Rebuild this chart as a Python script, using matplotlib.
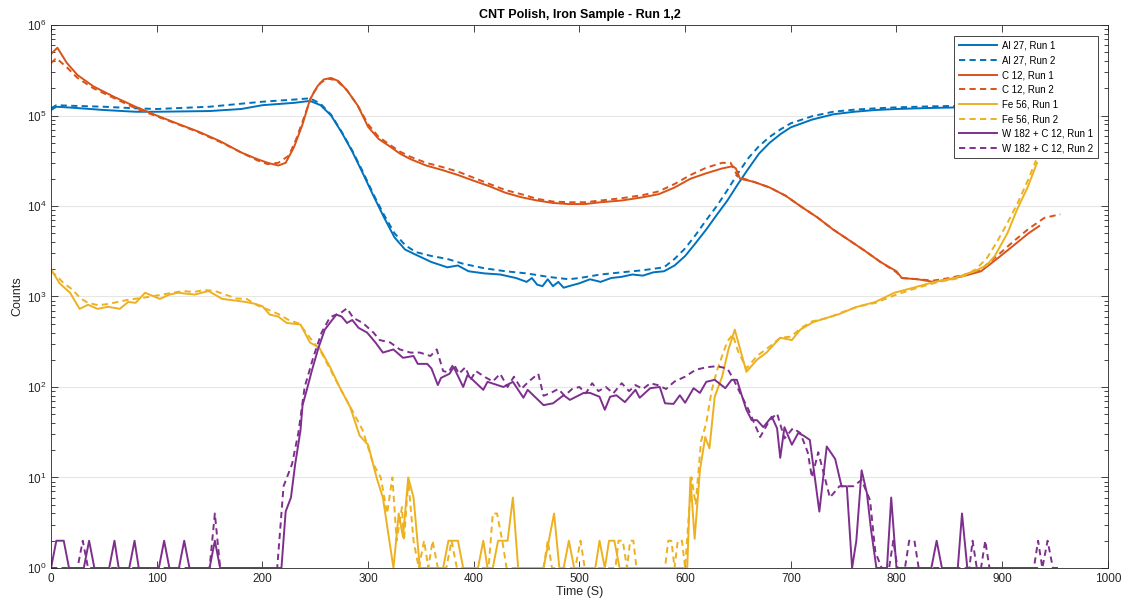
import numpy as np
import matplotlib
matplotlib.use("Agg")
from matplotlib import pyplot as plt
from matplotlib.ticker import LogLocator, MultipleLocator

plt.rcParams['font.family'] = ['Liberation Sans', 'DejaVu Sans']
plt.rcParams['mathtext.fontset'] = 'custom'
plt.rcParams['mathtext.rm'] = 'Liberation Sans'

# ---- data (time in s, counts) ----
t_al1 = [0, 5, 20, 50, 80, 100, 150, 180, 200, 230, 245, 255, 265, 275, 285, 295, 305, 315, 325, 335, 345,
         360, 375, 385, 395, 410, 425, 440, 450, 455, 460, 465, 470, 475, 480, 485, 490, 500, 510, 520, 530,
         540, 550, 560, 570, 580, 590, 600, 610, 620, 630, 640, 650, 660, 670, 680, 690, 700, 720, 740, 760,
         780, 800, 830, 860, 900, 935]
al1 = [1.15e5, 1.25e5, 1.22e5, 1.15e5, 1.1e5, 1.1e5, 1.12e5, 1.18e5, 1.3e5, 1.38e5, 1.45e5, 1.3e5, 1.0e5,
       6.5e4, 4.0e4, 2.3e4, 1.3e4, 7.5e3, 4.5e3, 3.3e3, 2.9e3, 2.4e3, 2.1e3, 2.2e3, 1.9e3, 1.8e3, 1.75e3,
       1.6e3, 1.45e3, 1.6e3, 1.35e3, 1.3e3, 1.55e3, 1.3e3, 1.45e3, 1.25e3, 1.3e3, 1.4e3, 1.55e3, 1.45e3,
       1.6e3, 1.65e3, 1.75e3, 1.7e3, 1.85e3, 1.9e3, 2.2e3, 2.8e3, 3.9e3, 5.5e3, 8.0e3, 1.15e4, 1.75e4,
       2.6e4, 3.8e4, 5.0e4, 6.2e4, 7.4e4, 9.0e4, 1.03e5, 1.1e5, 1.15e5, 1.18e5, 1.21e5, 1.23e5, 1.25e5, 1.26e5]

t_al2 = [0, 5, 20, 50, 80, 100, 150, 180, 200, 230, 245, 255, 265, 275, 285, 295, 305, 315, 325, 335, 345,
         360, 375, 390, 410, 430, 450, 470, 490, 500, 520, 540, 560, 580, 590, 600, 610, 620, 630, 640, 650,
         660, 670, 680, 690, 700, 720, 740, 760, 780, 800, 830, 860, 900, 955]
al2 = [1.2e5, 1.3e5, 1.28e5, 1.25e5, 1.2e5, 1.18e5, 1.25e5, 1.35e5, 1.42e5, 1.5e5, 1.55e5, 1.35e5, 1.02e5,
       6.6e4, 4.1e4, 2.4e4, 1.35e4, 8.0e3, 5.0e3, 3.7e3, 3.1e3, 2.8e3, 2.6e3, 2.3e3, 2.05e3, 1.9e3, 1.8e3,
       1.65e3, 1.55e3, 1.6e3, 1.75e3, 1.85e3, 1.95e3, 2.1e3, 2.6e3, 3.4e3, 4.8e3, 7.0e3, 1.0e4, 1.5e4,
       2.3e4, 3.4e4, 4.6e4, 5.8e4, 7.0e4, 8.2e4, 9.8e4, 1.1e5, 1.16e5, 1.2e5, 1.23e5, 1.26e5, 1.28e5,
       1.29e5, 1.3e5]

t_c1 = [0, 6, 15, 25, 40, 60, 80, 100, 120, 140, 160, 180, 195, 205, 215, 222, 230, 238, 245, 252, 258, 265,
        272, 280, 290, 300, 310, 320, 330, 340, 355, 370, 385, 400, 415, 430, 445, 460, 475, 490, 505, 520,
        540, 560, 575, 590, 605, 620, 635, 645, 648, 652, 665, 680, 695, 710, 725, 740, 755, 770, 785, 800,
        805, 820, 835, 850, 865, 880, 895, 910, 925, 935]
c1 = [4.8e5, 5.6e5, 3.8e5, 2.8e5, 2.1e5, 1.6e5, 1.25e5, 1.0e5, 8.1e4, 6.6e4, 5.2e4, 3.9e4, 3.3e4, 3.0e4,
      2.8e4, 3.0e4, 4.5e4, 8.0e4, 1.5e5, 2.1e5, 2.5e5, 2.6e5, 2.4e5, 1.9e5, 1.3e5, 7.5e4, 5.5e4, 4.6e4,
      3.8e4, 3.3e4, 2.8e4, 2.5e4, 2.2e4, 1.9e4, 1.65e4, 1.4e4, 1.25e4, 1.15e4, 1.08e4, 1.05e4, 1.05e4,
      1.1e4, 1.15e4, 1.25e4, 1.35e4, 1.6e4, 2.0e4, 2.3e4, 2.6e4, 2.75e4, 2.6e4, 2.0e4, 1.85e4, 1.6e4,
      1.3e4, 9.8e3, 7.5e3, 5.5e3, 4.2e3, 3.2e3, 2.4e3, 1.9e3, 1.6e3, 1.55e3, 1.45e3, 1.55e3, 1.7e3,
      1.9e3, 2.6e3, 3.6e3, 5.0e3, 6.0e3]

t_c2 = [0, 5, 15, 25, 40, 60, 80, 100, 120, 140, 160, 180, 195, 205, 215, 225, 232, 240, 247, 255, 262, 270,
        280, 290, 300, 310, 320, 330, 340, 355, 370, 385, 400, 415, 430, 445, 460, 475, 490, 505, 520, 540,
        560, 575, 590, 605, 620, 635, 643, 650, 665, 680, 695, 710, 725, 740, 755, 770, 785, 800, 805, 820,
        835, 850, 865, 880, 895, 910, 925, 940, 955]
c2 = [3.8e5, 4.3e5, 3.4e5, 2.6e5, 2.0e5, 1.55e5, 1.2e5, 9.8e4, 8.0e4, 6.5e4, 5.1e4, 3.9e4, 3.2e4, 2.9e4,
      3.0e4, 3.6e4, 5.5e4, 1.0e5, 1.7e5, 2.3e5, 2.55e5, 2.45e5, 1.9e5, 1.3e5, 8.0e4, 5.8e4, 4.8e4, 4.0e4,
      3.5e4, 3.0e4, 2.7e4, 2.4e4, 2.05e4, 1.75e4, 1.5e4, 1.35e4, 1.2e4, 1.12e4, 1.1e4, 1.1e4, 1.15e4,
      1.22e4, 1.32e4, 1.45e4, 1.75e4, 2.2e4, 2.65e4, 3.0e4, 3.0e4, 2.1e4, 1.85e4, 1.6e4, 1.3e4, 9.8e3,
      7.5e3, 5.5e3, 4.2e3, 3.2e3, 2.4e3, 1.85e3, 1.6e3, 1.55e3, 1.5e3, 1.6e3, 1.75e3, 2.0e3, 2.8e3,
      4.0e3, 5.6e3, 7.4e3, 8.1e3]

t_fe1 = [0, 8, 18, 27, 35, 44, 54, 65, 73, 80, 89, 103, 112, 120, 136, 149, 162, 175, 184, 193, 200, 207,
         215, 223, 236, 245, 254, 264, 273, 283, 292, 300, 308, 314, 324, 329, 333, 338, 343, 349, 371, 376,
         385, 390, 404, 409, 413, 418, 423, 432, 437, 442, 466, 476, 481, 485, 490, 495, 515, 519, 524, 528,
         533, 538, 602, 605, 609, 614, 619, 623, 628, 635, 641, 647, 658, 668, 677, 690, 701, 709, 721, 734,
         746, 761, 780, 798, 817, 836, 855, 874, 885, 893, 905, 914, 924, 933]
fe1 = [2.0e3, 1.4e3, 1.1e3, 7.3e2, 8.1e2, 7.3e2, 7.7e2, 7.3e2, 8.7e2, 8.5e2, 1.1e3, 9.4e2, 1.05e3, 1.1e3,
       1.05e3, 1.15e3, 9.4e2, 9.0e2, 8.7e2, 8.3e2, 7.8e2, 6.3e2, 6.0e2, 5.1e2, 4.9e2, 3.1e2, 2.7e2, 1.66e2,
       1.0e2, 60, 29, 23, 10, 6, 1, 4, 2.2, 10, 6, 1, 1, 2, 2, 1, 1, 2, 1, 1, 2, 2, 6, 1, 1, 4, 1, 1, 2, 1,
       1, 2, 1, 2, 2, 1, 1, 10, 2.1, 12, 28, 21, 78, 1.3e2, 2.6e2, 4.3e2, 1.47e2, 2.0e2, 2.4e2, 3.5e2,
       3.3e2, 4.3e2, 5.2e2, 5.8e2, 6.4e2, 7.6e2, 8.7e2, 1.1e3, 1.26e3, 1.45e3, 1.6e3, 1.9e3, 2.2e3, 2.8e3,
       5.0e3, 9.1e3, 1.6e4, 3.0e4]

t_fe2 = [0, 5, 12, 20, 28, 35, 45, 55, 65, 75, 85, 95, 105, 115, 125, 135, 145, 155, 165, 175, 185, 195,
         205, 215, 225, 235, 245, 255, 265, 275, 285, 295, 305, 312, 318, 323, 327, 332, 334, 338, 343, 348,
         353, 357, 361, 366, 374, 379, 384, 414, 418, 422, 427, 431, 466, 470, 474, 496, 501, 505, 534, 537,
         541, 545, 548, 551, 554, 558, 581, 584, 587, 590, 593, 597, 600, 606, 610, 615, 620, 625, 630, 635,
         640, 645, 650, 658, 668, 680, 690, 700, 710, 720, 735, 750, 765, 780, 800, 820, 840, 860, 875, 885,
         895, 905, 915, 925, 932]
fe2 = [1.9e3, 1.7e3, 1.4e3, 1.2e3, 9.5e2, 8.5e2, 8.0e2, 8.3e2, 8.8e2, 9.3e2, 9.6e2, 1.0e3, 1.05e3, 1.1e3,
       1.15e3, 1.12e3, 1.18e3, 1.15e3, 1.05e3, 9.5e2, 9.4e2, 8.0e2, 7.2e2, 6.4e2, 5.5e2, 5.0e2, 3.5e2,
       2.5e2, 1.5e2, 90, 55, 33, 14, 10, 4, 10, 2, 4.7, 2, 9.4, 2, 1, 2, 1, 2, 1, 1, 2, 1, 1, 4, 4, 2, 1, 1,
       2, 1, 1, 2, 1, 1, 2, 2, 1, 2, 2, 1, 1, 1, 2, 2, 1, 2, 2, 1, 10, 5, 25, 40, 90, 1.5e2, 2.2e2, 3.2e2,
       3.8e2, 2.5e2, 1.6e2, 2.2e2, 2.8e2, 3.5e2, 3.6e2, 4.5e2, 5.3e2, 5.8e2, 6.8e2, 7.8e2, 8.5e2, 1.05e3,
       1.25e3, 1.45e3, 1.6e3, 2.0e3, 2.6e3, 4.0e3, 6.5e3, 1.1e4, 2.0e4, 3.2e4]

t_w1 = [0, 5, 12, 17, 31, 36, 41, 55, 60, 64, 74, 79, 83, 102, 107, 112, 121, 126, 131, 150, 155, 160, 218,
        222, 227, 231, 236, 238, 242, 247, 253, 259, 266, 270, 275, 280, 285, 291, 299, 307, 314, 324, 333,
        343, 347, 356, 360, 366, 369, 377, 381, 390, 394, 399, 409, 413, 428, 437, 447, 451, 466, 475, 485,
        491, 504, 510, 519, 524, 529, 535, 543, 553, 557, 567, 576, 581, 589, 595, 600, 608, 614, 620, 628,
        638, 644, 649, 654, 658, 663, 668, 674, 682, 687, 690, 694, 701, 707, 712, 718, 727, 734, 742, 748,
        753, 758, 762, 767, 772, 776, 781, 791, 795, 800, 833, 838, 843, 858, 862, 867, 933]
w1 = [1, 2, 2, 1, 1, 2, 1, 1, 2, 1, 1, 2, 1, 1, 2, 1, 1, 2, 1, 1, 2, 1, 1, 4.2, 6, 14, 33, 63, 93, 155, 270,
      430, 550, 630, 600, 510, 550, 450, 400, 310, 240, 260, 210, 220, 180, 180, 160, 105, 126, 140, 166,
      100, 135, 120, 93, 114, 100, 114, 76, 93, 63, 66, 81, 72, 86, 86, 78, 56, 78, 81, 68, 93, 76, 97, 100,
      66, 65, 81, 67, 97, 86, 114, 120, 97, 120, 120, 78, 56, 43, 43, 36, 47, 35, 16.5, 36, 23, 31, 29, 26,
      4.2, 22, 16, 8, 8, 1, 2, 12, 6.7, 2.6, 1, 1, 6, 1, 1, 2, 1, 1, 4, 1, 1]

t_w2 = [0, 25, 30, 35, 150, 155, 160, 214, 220, 228, 234, 240, 248, 256, 264, 275, 280, 286, 295, 305, 311,
        321, 330, 340, 349, 359, 365, 371, 376, 381, 386, 392, 397, 402, 410, 418, 425, 432, 438, 445, 452,
        461, 466, 472, 480, 486, 493, 500, 506, 512, 518, 525, 532, 540, 547, 553, 560, 567, 574, 582, 590,
        600, 610, 620, 630, 640, 646, 652, 660, 671, 680, 687, 694, 702, 709, 716, 720, 726, 737, 746, 759,
        767, 775, 780, 786, 793, 797, 801, 808, 812, 817, 821, 869, 872, 876, 880, 884, 888, 930, 934, 938,
        943, 948, 957]
w2 = [1, 1, 2, 1, 1, 4, 1, 1, 8, 14, 31, 100, 210, 400, 590, 670, 740, 580, 510, 400, 330, 310, 260, 240,
      240, 220, 260, 150, 145, 180, 140, 165, 120, 150, 130, 115, 140, 100, 130, 95, 115, 140, 80, 85, 95,
      80, 95, 100, 85, 110, 90, 100, 85, 110, 90, 105, 95, 110, 105, 95, 115, 130, 155, 165, 170, 160, 120,
      86, 56, 28, 43, 51, 27, 35, 31, 19, 10, 19, 6, 8, 8, 9.4, 5.6, 1.5, 1, 1, 2, 1, 1, 2, 2, 1, 1, 2, 1,
      1, 2, 1, 1, 2, 1, 2, 1, 1]

labels = ["Al 27, Run 1", "Al 27, Run 2", "C 12, Run 1", "C 12, Run 2",
          "Fe 56, Run 1", "Fe 56, Run 2", "W 182 + C 12, Run 1", "W 182 + C 12, Run 2"]

# matlab default colour order
c_blue = "#0072BD"
c_orange = "#D95319"
c_yellow = "#EDB120"
c_purple = "#7E2F8E"
dash = (0, (3.2, 2.2))

fig = plt.figure(figsize=(11.27, 6.07), dpi=100)
ax = fig.add_axes([0.0453, 0.0643, 0.9377, 0.8945])

series = [(t_al1, al1, c_blue, "-"), (t_al2, al2, c_blue, dash),
          (t_c1, c1, c_orange, "-"), (t_c2, c2, c_orange, dash),
          (t_fe1, fe1, c_yellow, "-"), (t_fe2, fe2, c_yellow, dash),
          (t_w1, w1, c_purple, "-"), (t_w2, w2, c_purple, dash)]
for (tt, yy, col, ls), lab in zip(series, labels):
    ax.plot(tt, yy, color=col, ls=ls, lw=1.4, label=lab)

ax.set_yscale("log")
ax.set_xlim(0, 1000)
ax.set_ylim(1, 1e6)
ax.xaxis.set_major_locator(MultipleLocator(100))
ax.yaxis.set_major_locator(LogLocator(base=10, numticks=10))
ax.yaxis.set_minor_locator(LogLocator(base=10, subs=np.arange(2, 10), numticks=20))

axcol = "#262626"
ax.tick_params(which="both", direction="in", top=True, right=True, colors=axcol, labelsize=8.5)
ax.tick_params(which="major", length=5, width=0.6)
ax.tick_params(which="minor", length=3, width=0.6)
for sp in ax.spines.values():
    sp.set_color("#262626")
    sp.set_linewidth(0.6)
ax.grid(True, axis="y", which="major", color="#e6e6e6", lw=0.8)
ax.set_axisbelow(True)

ax.set_title("CNT Polish, Iron Sample - Run 1,2", fontsize=9, fontweight="bold", color="black", pad=5)
ax.set_xlabel("Time (S)", fontsize=9, color=axcol, labelpad=1)
ax.set_ylabel("Counts", fontsize=9, color=axcol, labelpad=2)

leg = ax.legend(loc="upper right", bbox_to_anchor=(0.9905, 0.9797), fontsize=7, frameon=True, fancybox=False,
                handlelength=3.9, borderpad=0.5, labelspacing=0.48, handletextpad=0.5, borderaxespad=0)
leg.get_frame().set_edgecolor("#262626")
leg.get_frame().set_linewidth(0.6)
leg.get_frame().set_alpha(1)

fig.savefig("out.png", dpi=100)
plt.close()
